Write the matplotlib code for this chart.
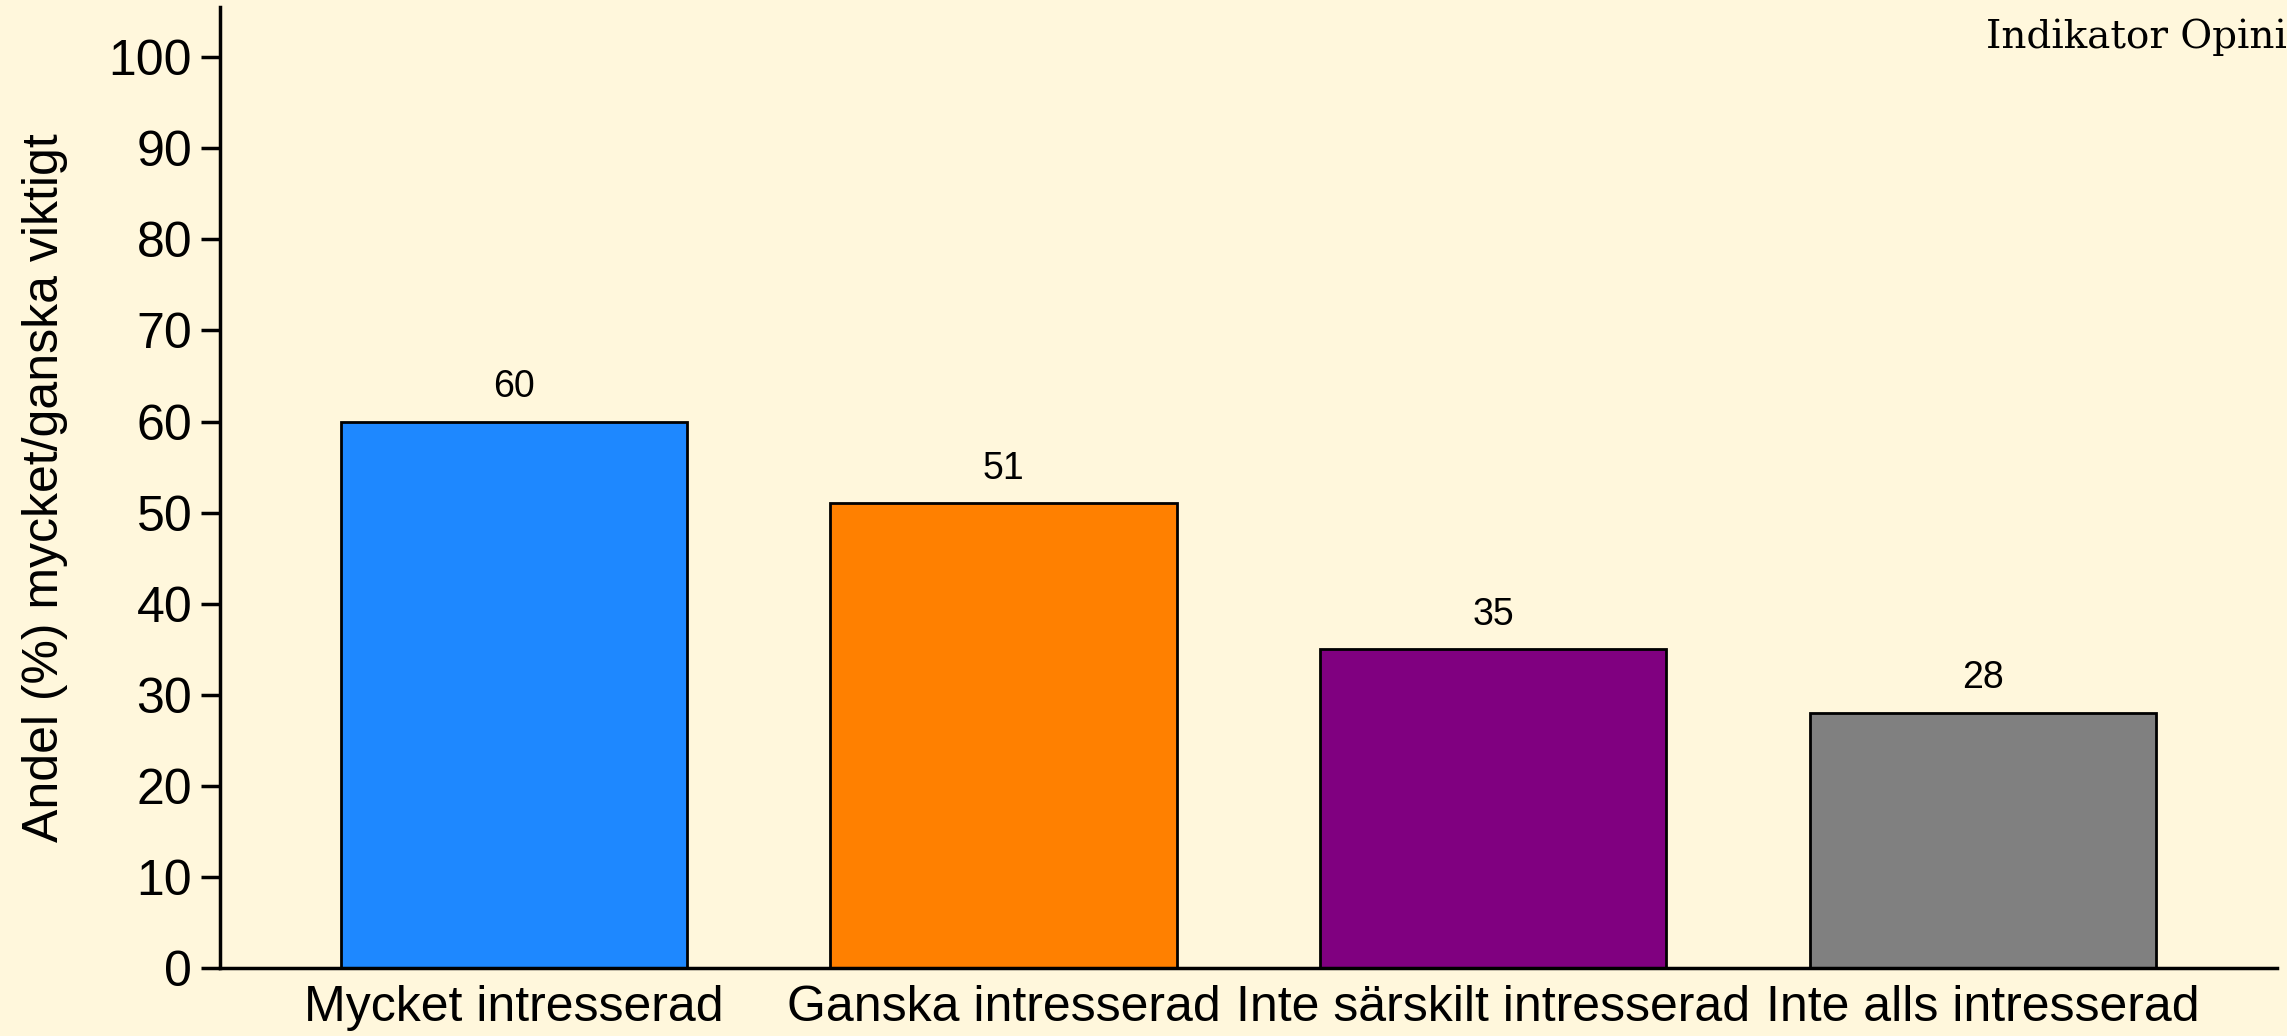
"""Bar chart: share who find it very/fairly important, by interest level"""

import matplotlib.pyplot as plt

categories = ['Mycket intresserad', 'Ganska intresserad',
              'Inte särskilt intresserad', 'Inte alls intresserad']
values = [60, 51, 35, 28]
bar_colors = ['#1E88FF', '#FF8000', '#800080', '#808080']
y_ticks = list(range(0, 101, 10))

BG = '#FFF7DC'

plt.rcParams['font.family'] = ['Liberation Sans', 'DejaVu Sans']

fig = plt.figure(figsize=(22.87, 10.36), dpi=100, facecolor=BG)
ax = fig.add_axes([0.0962, 0.0656, 0.8994, 0.9276], facecolor=BG)

x = range(len(categories))
bars = ax.bar(x, values, width=0.707, color=bar_colors,
              edgecolor='black', linewidth=2)

for bar, val in zip(bars, values):
    ax.annotate(f'{val}', (bar.get_x() + bar.get_width() / 2, val),
                xytext=(0, 12), textcoords='offset points',
                ha='center', va='bottom', fontsize=27)

ax.set_xlim(-0.6, 3.6)
ax.set_ylim(0, 105.5)
ax.set_yticks(y_ticks)
ax.set_xticks(list(x))
ax.set_xticklabels(categories, fontsize=36)
ax.tick_params(axis='x', length=0, pad=12)
ax.tick_params(axis='y', labelsize=36, length=14, width=2.5, direction='out', pad=6)
ax.set_ylabel('Andel (%) mycket/ganska viktigt', fontsize=36, labelpad=29)

for side in ['top', 'right']:
    ax.spines[side].set_visible(False)
for side in ['left', 'bottom']:
    ax.spines[side].set_linewidth(2.5)

# source text, clipped by the right edge like in the original
fig.text(1986 / 2287, 1 - 37 / 1036, 'Indikator Opinion', fontsize=28,
         family='DejaVu Serif', ha='left', va='center')

fig.savefig('out.png', dpi=100, facecolor=BG)
